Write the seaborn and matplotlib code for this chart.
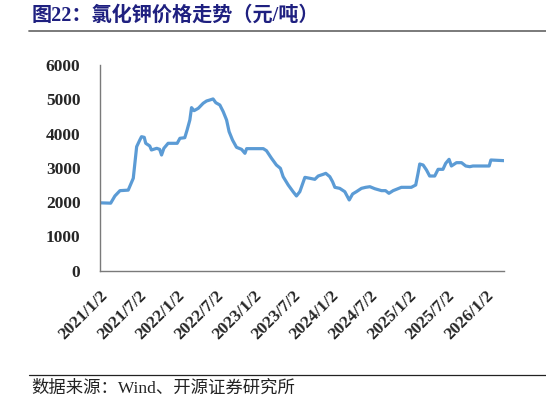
import matplotlib
matplotlib.use("Agg")
import matplotlib.pyplot as plt
import matplotlib.lines as mlines
import seaborn as sns
import pandas as pd

# 氯化钾价格（元/吨），从图上读取的关键点
dates = [
    "2021-01-02", "2021-02-22", "2021-03-14", "2021-04-07", "2021-05-16", "2021-06-09",
    "2021-06-25", "2021-07-10", "2021-07-18", "2021-07-31", "2021-08-07", "2021-08-26",
    "2021-09-03", "2021-09-28", "2021-10-12", "2021-10-21", "2021-11-01", "2021-11-21",
    "2022-01-03", "2022-01-16", "2022-02-08", "2022-02-19", "2022-03-04", "2022-03-12",
    "2022-03-24", "2022-04-13", "2022-05-06", "2022-05-22", "2022-06-07", "2022-06-22",
    "2022-07-05", "2022-07-24", "2022-08-09", "2022-08-25", "2022-09-06", "2022-09-22",
    "2022-10-11", "2022-11-04", "2022-11-20", "2022-11-28", "2023-02-15", "2023-03-02",
    "2023-03-26", "2023-04-18", "2023-05-07", "2023-05-20", "2023-06-13", "2023-07-06",
    "2023-07-22", "2023-08-07", "2023-08-31", "2023-09-24", "2023-10-17", "2023-11-02",
    "2023-11-25", "2023-12-08", "2023-12-27", "2024-01-09", "2024-01-20", "2024-02-12",
    "2024-03-07", "2024-03-28", "2024-04-13", "2024-05-01", "2024-05-25", "2024-06-14",
    "2024-07-04", "2024-07-27", "2024-08-28", "2024-09-16", "2024-10-02", "2024-10-22",
    "2024-11-30", "2025-01-16", "2025-02-06", "2025-02-17", "2025-02-25", "2025-03-13",
    "2025-03-29", "2025-04-13", "2025-05-07", "2025-05-23", "2025-06-15", "2025-06-28",
    "2025-07-14", "2025-07-25", "2025-08-18", "2025-09-11", "2025-10-01", "2025-10-20",
    "2025-11-04", "2026-01-20", "2026-01-28", "2026-03-31",
]
prices = [
    1980, 1970, 2180, 2335, 2350, 2695,
    3617, 3813, 3909, 3890, 3716, 3638,
    3521, 3570, 3540, 3375, 3570, 3716,
    3716, 3862, 3880, 4104, 4396, 4756,
    4668, 4737, 4883, 4950, 4980, 5010,
    4900, 4834, 4640, 4396, 4056, 3813,
    3600, 3540, 3424, 3560, 3560, 3500,
    3278, 3083, 2986, 2742, 2500, 2305,
    2180, 2305, 2723, 2695, 2665, 2762,
    2810, 2840, 2742, 2597, 2432, 2402,
    2305, 2063, 2238, 2305, 2402, 2432,
    2450, 2392, 2335, 2335, 2257, 2335,
    2432, 2432, 2500, 2840, 3112, 3083,
    2937, 2762, 2762, 2957, 2957, 3132,
    3249, 3054, 3151, 3151, 3054, 3034,
    3054, 3054, 3229, 3210,
]
tick_labels = ["2021/1/2", "2021/7/2", "2022/1/2", "2022/7/2", "2023/1/2", "2023/7/2",
               "2024/1/2", "2024/7/2", "2025/1/2", "2025/7/2", "2026/1/2"]
y_ticks = [0, 1000, 2000, 3000, 4000, 5000, 6000]

title_text = "图22：氯化钾价格走势（元/吨）"
source_text = "数据来源：Wind、开源证券研究所"

sns.set_style("white")
plt.rcParams["font.family"] = ["Liberation Serif", "Noto Sans CJK SC", "DejaVu Sans"]

df = pd.DataFrame({"date": pd.to_datetime(dates), "price": prices})

fig = plt.figure(figsize=(5.46, 4.05), dpi=100)
ax = fig.add_axes([0.183, 0.3316, 0.740, 0.5079])

sns.lineplot(data=df, x="date", y="price", ax=ax, color="#5B9BD5", linewidth=2.3)

ax.set_xlim(pd.Timestamp("2021-01-02"), pd.Timestamp("2026-03-31"))
ax.set_ylim(0, 6000)
ax.set_xlabel("")
ax.set_ylabel("")

tick_pos = pd.to_datetime(tick_labels, format="%Y/%m/%d")
ax.set_xticks(tick_pos)
ax.set_xticklabels(tick_labels, rotation=45, ha="right", rotation_mode="anchor",
                   fontsize=12.5, fontweight="bold")
ax.set_yticks(y_ticks)
ax.set_yticklabels([str(v) for v in y_ticks], fontsize=12.5, fontweight="bold")

for side in ["top", "right"]:
    ax.spines[side].set_visible(False)
for side in ["left", "bottom"]:
    ax.spines[side].set_color("#7a7a7a")
    ax.spines[side].set_linewidth(1.0)
ax.tick_params(axis="y", direction="in", length=4, color="#7a7a7a", pad=14)
ax.tick_params(axis="x", direction="in", length=4, color="#7a7a7a", pad=12)

# 标题和来源
fig.text(0.057, 0.962, title_text, fontsize=14.5, fontweight="bold", color="#1f2080",
         va="center", ha="left")
fig.add_artist(mlines.Line2D([0.053, 1.0], [0.923, 0.923], color="#707070", linewidth=1.3))
fig.add_artist(mlines.Line2D([0.053, 1.0], [0.074, 0.074], color="#222222", linewidth=0.9))
fig.text(0.057, 0.040, source_text, fontsize=12.5, color="#222222", va="center", ha="left")

fig.savefig("out.png", dpi=100)
